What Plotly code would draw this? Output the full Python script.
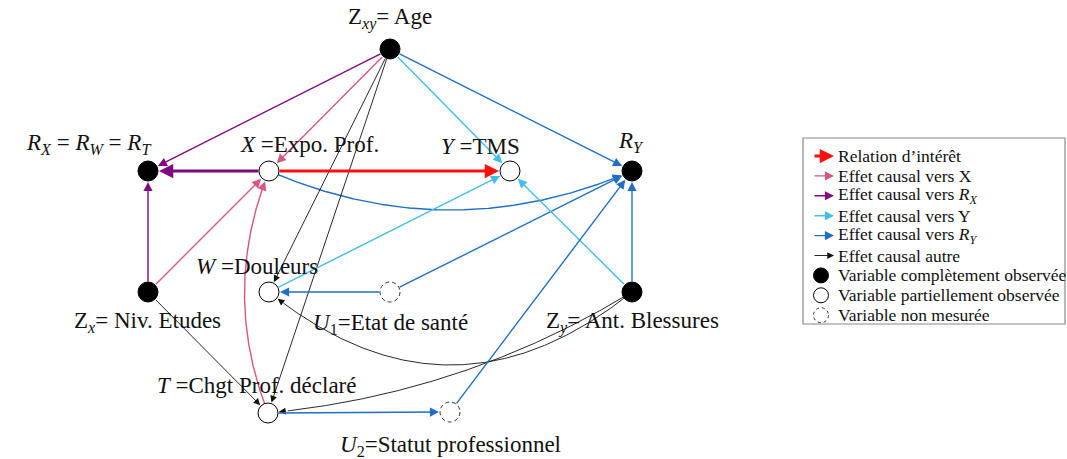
import numpy as np
import plotly.graph_objects as go

W_PX, H_PX = 1067, 459
FONT = "Liberation Serif"

# noeuds du graphe causal
node_ids = ["Zxy", "RX", "X", "Y", "RY", "Zx", "W", "U1", "Zy", "T", "U2"]
node_status = ["obs", "obs", "part", "part", "obs", "obs", "part", "none", "obs", "part", "none"]
node_labels = [
    "Z<sub><i>xy</i></sub>= Age",
    "<i>R<sub>X</sub></i> = <i>R<sub>W</sub></i> = <i>R<sub>T</sub></i>",
    "<i>X</i> =Expo. Prof.",
    "<i>Y</i> =TMS",
    "<i>R<sub>Y</sub></i>",
    "Z<sub><i>x</i></sub>= Niv. Etudes",
    "<i>W</i> =Douleurs",
    "<i>U</i><sub>1</sub>=Etat de santé",
    "Z<sub><i>y</i></sub>= Ant. Blessures",
    "<i>T</i> =Chgt Prof. déclaré",
    "<i>U</i><sub>2</sub>=Statut professionnel",
]

# arcs : source -> cible, type d'effet
edge_src = ["Zxy", "Zxy", "Zxy", "Zxy", "Zxy", "Zxy", "X", "X", "X", "Zx", "Zx", "Zx",
            "T", "W", "U1", "U1", "Zy", "Zy", "Zy", "Zy", "T", "U2"]
edge_dst = ["RX", "X", "W", "T", "Y", "RY", "RX", "Y", "RY", "RX", "X", "T",
            "X", "Y", "W", "RY", "RY", "Y", "W", "T", "U2", "RY"]
edge_kind = ["rx", "x", "autre", "autre", "y", "ry", "rx", "interet", "ry", "rx", "x", "autre",
             "x", "y", "ry", "ry", "ry", "y", "autre", "autre", "ry", "ry"]

legend_kinds = ["interet", "x", "rx", "y", "ry", "autre"]
legend_texts = [
    "Relation d’intérêt",
    "Effet causal vers X",
    "Effet causal vers <i>R<sub>X</sub></i>",
    "Effet causal vers Y",
    "Effet causal vers <i>R<sub>Y</sub></i>",
    "Effet causal autre",
]
legend_status = ["obs", "part", "none"]
legend_status_texts = [
    "Variable complètement observée",
    "Variable partiellement observée",
    "Variable non mesurée",
]

# mise en page (pixels)
pos = {
    "Zxy": (390, 49), "RX": (148, 171), "X": (269, 171), "Y": (510, 171), "RY": (632, 171),
    "Zx": (148, 292), "W": (269, 292), "U1": (390, 292), "Zy": (632, 292),
    "T": (268, 413), "U2": (450, 412),
}
label_pos = {
    "Zxy": (390, 18), "RX": (88, 144), "X": (309, 144), "Y": (480, 146), "RY": (631, 142),
    "Zx": (147, 322), "W": (257, 266), "U1": (390, 324), "Zy": (632, 322),
    "T": (257, 385), "U2": (450, 446),
}
bends = {("X", "RY"): 78, ("T", "X"): -48, ("Zy", "W"): -146, ("Zy", "T"): -44}
thick = {("X", "RX"), ("X", "Y")}

colors = {"interet": "#ff1010", "x": "#d95584", "rx": "#800a80",
          "y": "#45bdea", "ry": "#1f6fc4", "autre": "#111111"}
R = 10


def style(kind, heavy):
    if heavy:
        return 3.0, 0.95
    if kind == "autre":
        return 0.9, 1.5
    return 1.4, 1.3


fig = go.Figure()
ann = []
shapes = []

for s, d, k in zip(edge_src, edge_dst, edge_kind):
    x0, y0 = pos[s]
    x1, y1 = pos[d]
    w, asz = style(k, (s, d) in thick)
    c = colors[k]
    if (s, d) in bends:
        b = bends[(s, d)]
        dx, dy = x1 - x0, y1 - y0
        L = np.hypot(dx, dy)
        cx = (x0 + x1) / 2 - dy / L * b
        cy = (y0 + y1) / 2 + dx / L * b
        t = np.linspace(0, 1, 200)
        bx = (1 - t) ** 2 * x0 + 2 * (1 - t) * t * cx + t ** 2 * x1
        by = (1 - t) ** 2 * y0 + 2 * (1 - t) * t * cy + t ** 2 * y1
        dist = np.hypot(bx - x1, by - y1)
        idx = np.where(dist > R + 8)[0][-1]
        fig.add_trace(go.Scatter(x=bx[:idx + 1], y=by[:idx + 1], mode="lines",
                                 line=dict(color=c, width=w), hoverinfo="skip",
                                 showlegend=False))
        ann.append(dict(x=x1, y=y1, ax=bx[idx], ay=by[idx], xref="x", yref="y",
                        axref="x", ayref="y", showarrow=True, arrowhead=2,
                        arrowsize=asz, arrowwidth=w, arrowcolor=c, standoff=R + 1,
                        text=""))
    else:
        ann.append(dict(x=x1, y=y1, ax=x0, ay=y0, xref="x", yref="y",
                        axref="x", ayref="y", showarrow=True, arrowhead=2,
                        arrowsize=asz, arrowwidth=w, arrowcolor=c, standoff=R + 1,
                        startstandoff=R - 1, text=""))

# noeuds observés / partiellement observés
for st, fill in (("obs", "black"), ("part", "white")):
    ids = [n for n, s in zip(node_ids, node_status) if s == st]
    fig.add_trace(go.Scatter(
        x=[pos[n][0] for n in ids], y=[pos[n][1] for n in ids], mode="markers",
        marker=dict(size=2 * R, color=fill, line=dict(color="black", width=1)),
        hoverinfo="skip", showlegend=False))

# noeuds non mesurés (cercle pointillé)
for n, st in zip(node_ids, node_status):
    if st == "none":
        x, y = pos[n]
        shapes.append(dict(type="circle", xref="x", yref="y", x0=x - R, x1=x + R,
                           y0=y - R, y1=y + R, fillcolor="white", layer="above",
                           line=dict(color="#333", width=1, dash="4px,3px")))

for n, lab in zip(node_ids, node_labels):
    x, y = label_pos[n]
    ann.append(dict(x=x, y=y, xref="x", yref="y", text=lab, showarrow=False,
                    font=dict(family=FONT, size=23, color="#111")))

# légende
lx0, ly0, ly1 = 803, 138, 324
shapes.append(dict(type="rect", xref="x", yref="y", x0=lx0, x1=1065, y0=ly0, y1=ly1,
                   line=dict(color="#888", width=1.2), fillcolor="white", layer="below"))
ystep = 19.9
for i, (k, txt) in enumerate(zip(legend_kinds, legend_texts)):
    y = 156 + i * ystep
    w, asz = style(k, k == "interet")
    ann.append(dict(x=834, y=y, ax=813, ay=y, xref="x", yref="y", axref="x", ayref="y",
                    showarrow=True, arrowhead=2, arrowsize=asz, arrowwidth=w,
                    arrowcolor=colors[k], text=""))
    ann.append(dict(x=836, y=y, xref="x", yref="y", text=txt, showarrow=False,
                    xanchor="left", font=dict(family=FONT, size=17.5, color="#111")))
for j, (st, txt) in enumerate(zip(legend_status, legend_status_texts)):
    y = 156 + (6 + j) * ystep
    rr = 7.5
    if st == "none":
        ln = dict(color="#333", width=1, dash="3px,3px")
        fc = "white"
    else:
        ln = dict(color="black", width=1)
        fc = "black" if st == "obs" else "white"
    shapes.append(dict(type="circle", xref="x", yref="y", x0=821 - rr, x1=821 + rr,
                       y0=y - rr, y1=y + rr, fillcolor=fc, line=ln, layer="above"))
    ann.append(dict(x=836, y=y, xref="x", yref="y", text=txt, showarrow=False,
                    xanchor="left", font=dict(family=FONT, size=17.5, color="#111")))

fig.update_layout(
    width=W_PX, height=H_PX, margin=dict(l=0, r=0, t=0, b=0),
    paper_bgcolor="white", plot_bgcolor="white",
    xaxis=dict(range=[0, W_PX], visible=False, fixedrange=True),
    yaxis=dict(range=[H_PX, 0], visible=False, fixedrange=True),
    annotations=ann, shapes=shapes, showlegend=False,
)

fig.write_html("out.html", config={"displayModeBar": False},
               post_script="document.body.style.margin='0';")
